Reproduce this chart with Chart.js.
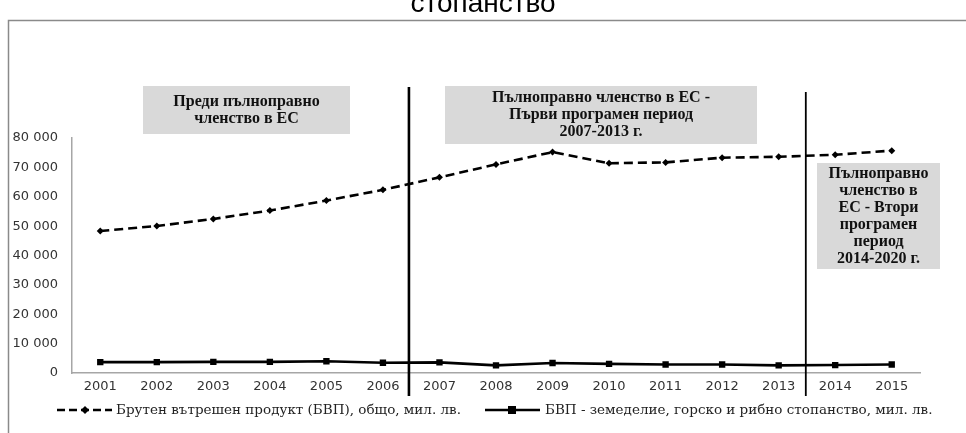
<!DOCTYPE html>
<html>
<head>
<meta charset="utf-8">
<script src="https://cdn.jsdelivr.net/npm/chart.js@4.4.0/dist/chart.umd.min.js"></script>
<style>
  html, body { margin: 0; padding: 0; background: #fff; overflow: hidden; }
  #wrap { position: relative; width: 966px; height: 433px; }
</style>
</head>
<body>
<div id="wrap"><canvas id="gdpChart" width="966" height="433"></canvas></div>
<script>
// data (mil. lv.)
var years = ['2001', '2002', '2003', '2004', '2005', '2006', '2007', '2008',
             '2009', '2010', '2011', '2012', '2013', '2014', '2015'];
var gdpTotal = [48350, 50050, 52450, 55300, 58700, 62350, 66600, 71000,
                75200, 71400, 71700, 73300, 73600, 74300, 75700];
var gdpAgri = [3700, 3700, 3800, 3800, 4000, 3500, 3600, 2600,
               3400, 3100, 2900, 2900, 2600, 2700, 2900];
var seriesNames = ['Брутен вътрешен продукт (БВП), общо, мил. лв.',
                   'БВП - земеделие, горско и рибно стопанство, мил. лв.'];
var titleTail = 'стопанство';

// period separators (as category index) and the notes that go with them
var periodBreaks = [5.46, 12.48];
var periodNotes = [
  ['Преди пълноправно', 'членство в ЕС'],
  ['Пълноправно членство в ЕС -', 'Първи програмен период', '2007-2013 г.'],
  ['Пълноправно', 'членство в', 'ЕС - Втори', 'програмен', 'период', '2014-2020 г.']
];

// boxes for the notes: [left, top, width, height]
var noteBoxes = [[143, 86, 207, 48], [445, 86, 312, 58], [817, 163, 123, 106]];

function fmt(v) {
  return String(v).replace(/\B(?=(\d{3})+(?!\d))/g, ' ');
}

var extras = {
  id: 'extras',
  afterDatasetsDraw: function(chart) {
    var ctx = chart.ctx;
    var x = chart.scales.x;
    var widths = [2.6, 1.8];
    var tops = [87, 92];
    ctx.save();
    ctx.strokeStyle = '#000';
    periodBreaks.forEach(function(b, i) {
      var i0 = Math.floor(b);
      var p0 = x.getPixelForValue(i0);
      var p1 = x.getPixelForValue(i0 + 1);
      var px = p0 + (b - i0) * (p1 - p0);
      ctx.lineWidth = widths[i];
      ctx.beginPath();
      ctx.moveTo(px, tops[i]);
      ctx.lineTo(px, 396);
      ctx.stroke();
    });
    ctx.restore();
  },
  afterDraw: function(chart) {
    var ctx = chart.ctx;
    ctx.save();

    // outer frame
    ctx.strokeStyle = '#8a8a8a';
    ctx.lineWidth = 1.5;
    ctx.beginPath();
    ctx.moveTo(8.5, 440);
    ctx.lineTo(8.5, 20.5);
    ctx.lineTo(970, 20.5);
    ctx.stroke();

    // cut-off title
    ctx.fillStyle = '#000';
    ctx.font = '28px "Liberation Sans", Arial, sans-serif';
    ctx.textAlign = 'center';
    ctx.textBaseline = 'alphabetic';
    ctx.fillText(titleTail, 483, 12);

    // note boxes
    ctx.font = 'bold 16px "Liberation Serif", "Times New Roman", serif';
    ctx.textBaseline = 'middle';
    noteBoxes.forEach(function(b, i) {
      ctx.fillStyle = '#d9d9d9';
      ctx.fillRect(b[0], b[1], b[2], b[3]);
      ctx.fillStyle = '#111';
      var lines = periodNotes[i];
      var lh = 17;
      var cy = b[1] + b[3] / 2 - (lines.length - 1) * lh / 2;
      lines.forEach(function(t, k) {
        ctx.fillText(t, b[0] + b[2] / 2, cy + k * lh);
      });
    });

    // legend
    var ly = 410;
    ctx.strokeStyle = '#000';
    ctx.fillStyle = '#000';
    ctx.lineWidth = 2.5;
    ctx.setLineDash([8, 4]);
    ctx.beginPath();
    ctx.moveTo(57, ly);
    ctx.lineTo(112, ly);
    ctx.stroke();
    ctx.setLineDash([]);
    ctx.beginPath();
    ctx.moveTo(85, ly - 4);
    ctx.lineTo(89, ly);
    ctx.lineTo(85, ly + 4);
    ctx.lineTo(81, ly);
    ctx.closePath();
    ctx.fill();

    ctx.lineWidth = 2.5;
    ctx.beginPath();
    ctx.moveTo(485, ly);
    ctx.lineTo(540, ly);
    ctx.stroke();
    ctx.fillRect(508, ly - 4, 8, 8);

    ctx.font = '13.5px "DejaVu Serif", serif';
    ctx.textAlign = 'left';
    ctx.fillStyle = '#222';
    ctx.fillText(seriesNames[0], 116, ly);
    ctx.fillText(seriesNames[1], 545, ly);
    ctx.restore();
  }
};

var chart = new Chart(document.getElementById('gdpChart'), {
  type: 'line',
  data: {
    labels: years,
    datasets: [{
      label: seriesNames[0],
      data: gdpTotal,
      borderColor: '#000',
      backgroundColor: '#000',
      borderWidth: 2.6,
      borderDash: [9, 5],
      pointStyle: 'rectRot',
      pointRadius: 3.5,
      pointBorderWidth: 0,
      tension: 0
    }, {
      label: seriesNames[1],
      data: gdpAgri,
      borderColor: '#000',
      backgroundColor: '#000',
      borderWidth: 2.6,
      pointStyle: 'rect',
      pointRadius: 4.5,
      pointBorderWidth: 0,
      tension: 0
    }]
  },
  options: {
    responsive: false,
    animation: false,
    layout: { padding: { left: 0, right: 46, top: 138, bottom: 30 } },
    plugins: {
      legend: { display: false },
      title: { display: false },
      tooltip: { enabled: false }
    },
    scales: {
      x: {
        offset: true,
        grid: { display: false, drawTicks: false },
        border: { display: true, color: '#a6a6a6', width: 1.5 },
        ticks: {
          color: '#333',
          padding: 6,
          maxRotation: 0,
          font: { family: '"DejaVu Sans", sans-serif', size: 13 }
        },
        afterFit: function(s) { s.height = 30; }
      },
      y: {
        min: 0,
        max: 80000,
        grid: { display: false, drawTicks: false },
        border: { display: true, color: '#a6a6a6', width: 1.5 },
        ticks: {
          stepSize: 10000,
          color: '#333',
          padding: 14,
          font: { family: '"DejaVu Sans", sans-serif', size: 13 },
          callback: function(v) { return fmt(v); }
        },
        afterFit: function(s) { s.width = 72; }
      }
    }
  },
  plugins: [extras]
});
</script>
</body>
</html>
